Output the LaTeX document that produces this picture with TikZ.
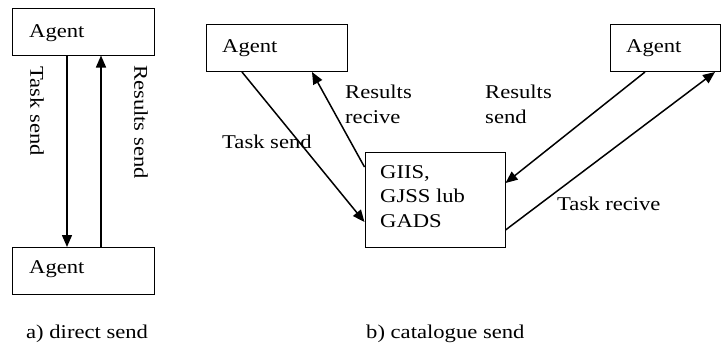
\documentclass[tikz,border=0pt]{standalone}
\usepackage{fontspec}
\setmainfont{Liberation Serif}[FakeStretch=1.16]
\usetikzlibrary{arrows.meta}
\begin{document}
\begin{tikzpicture}[x=1bp,y=-1bp,
  every node/.style={font=\fontsize{19.5bp}{24.5bp}\selectfont},
  box/.style={draw,line width=1bp,minimum height=47bp,inner sep=0pt},
  lbl/.style={inner sep=0pt,anchor=base west,align=left},
  arr/.style={line width=1.5bp,-{Triangle[length=12bp,width=10bp]}}]
\useasboundingbox (0,0) rectangle (722,342);

% a) direct send
\node[box,minimum width=141bp] (a1) at (83.5,31.5) {};
\node[box,minimum width=141bp] (a2) at (83.5,271) {};
\node[lbl] (a1t) at (29,37) {Agent};
\node[lbl] (a2t) at (29,273) {Agent};
\draw[arr] ([xshift=-16.5bp]a1.south) -- ([xshift=-16.5bp]a2.north);
\draw[arr] ([xshift=17.5bp]a2.north) -- ([xshift=17.5bp]a1.south);
\node[inner sep=0pt,rotate=-90] (ts) at (37,111) {Task send};
\node[inner sep=0pt,rotate=-90] (rs) at (141,122) {Results send};
\node[lbl] (capa) at (26,338) {a) direct send};

% b) catalogue send
\node[box,minimum width=141bp] (m) at (276.5,48) {};
\node[box,minimum width=110bp] (r) at (665,48) {};
\node[box,minimum width=140bp,minimum height=95bp] (g) at (435,199.5) {};
\node[lbl] (mt) at (222,52) {Agent};
\node[lbl] (rt) at (626,52) {Agent};
% multi-line labels are placed by the baseline of their last line
\node[lbl] (gt) at (380,227) {GIIS,\\GJSS lub\\GADS};

\draw[arr] ([xshift=-34.5bp]m.south) -- ([yshift=-22.5bp]g.west);
\draw[arr] ([yshift=32.5bp]g.west) -- ([xshift=35.5bp]m.south);
\draw[arr] ([xshift=-20bp]r.south) -- ([yshift=16.5bp]g.east);
\draw[arr] ([yshift=-30.5bp]g.east) -- ([xshift=50bp]r.south);

\node[lbl] (lrr) at (345,123) {Results\\recive};
\node[lbl] (lts) at (222,148) {Task send};
\node[lbl] (lrs) at (485,123) {Results\\send};
\node[lbl] (ltr) at (557,210) {Task recive};
\node[lbl] (capb) at (366,338) {b) catalogue send};
\end{tikzpicture}
\end{document}
